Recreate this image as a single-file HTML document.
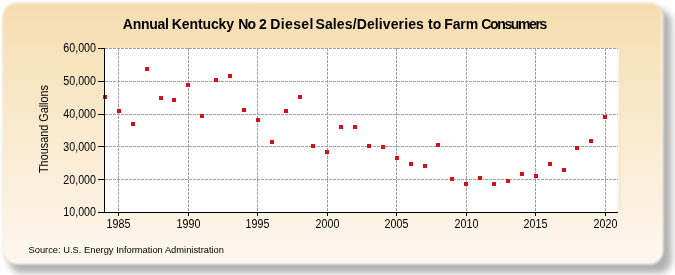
<!DOCTYPE html>
<html><head><meta charset="utf-8"><style>
html,body{margin:0;padding:0;width:675px;height:275px;overflow:hidden;background:#fff}
svg{display:block}
text{font-family:"Liberation Sans",sans-serif;fill:#000}
</style></head><body>
<svg width="675" height="275" viewBox="0 0 675 275">
<defs>
<linearGradient id="bg" x1="0" y1="0" x2="0" y2="1">
<stop offset="0" stop-color="#F5DDB0"/>
<stop offset="1" stop-color="#FEF7EE"/>
</linearGradient>
<filter id="sh" x="-10%" y="-10%" width="120%" height="130%"><feGaussianBlur stdDeviation="3.5"/></filter>
<filter id="noop"><feOffset dx="0" dy="0"/></filter>
<filter id="soft" x="-2%" y="-2%" width="104%" height="104%"><feGaussianBlur stdDeviation="1"/></filter>
</defs>
<rect x="9" y="10" width="662.5" height="263" rx="13" fill="#B0B0B0" filter="url(#sh)"/>
<g filter="url(#soft)">
<rect x="3" y="3.3" width="660.5" height="261.2" rx="14" fill="#FEFAF3" stroke="#B8B49C" stroke-opacity="0.45" stroke-width="1.2"/>
<rect x="3" y="3.3" width="658.5" height="258.7" rx="13" fill="url(#bg)"/>
</g>
<linearGradient id="pr" x1="0" y1="0" x2="1" y2="0"><stop offset="0" stop-color="#fff" stop-opacity="1"/><stop offset="0.55" stop-color="#FBF4E4" stop-opacity="0.9"/><stop offset="1" stop-color="#E6DCCB" stop-opacity="0.6"/></linearGradient>
<rect x="104" y="48" width="512" height="164" fill="#fff"/>
<rect x="616" y="48" width="4.5" height="164" fill="url(#pr)"/>
<g stroke="#a2a2a2" stroke-width="1" stroke-dasharray="3,1" shape-rendering="crispEdges">
<line x1="105" y1="48.5" x2="618" y2="48.5"/>
<line x1="105" y1="81.5" x2="618" y2="81.5"/>
<line x1="105" y1="114.5" x2="618" y2="114.5"/>
<line x1="105" y1="146.5" x2="618" y2="146.5"/>
<line x1="105" y1="179.5" x2="618" y2="179.5"/>
<line x1="118.5" y1="48" x2="118.5" y2="212"/>
<line x1="188.5" y1="48" x2="188.5" y2="212"/>
<line x1="257.5" y1="48" x2="257.5" y2="212"/>
<line x1="327.5" y1="48" x2="327.5" y2="212"/>
<line x1="396.5" y1="48" x2="396.5" y2="212"/>
<line x1="466.5" y1="48" x2="466.5" y2="212"/>
<line x1="535.5" y1="48" x2="535.5" y2="212"/>
<line x1="605.5" y1="48" x2="605.5" y2="212"/>
</g>
<g fill="#D0101E" shape-rendering="crispEdges">
<rect x="103" y="95" width="4" height="4"/>
<rect x="117" y="109" width="4" height="4"/>
<rect x="131" y="122" width="4" height="4"/>
<rect x="145" y="67" width="4" height="4"/>
<rect x="159" y="96" width="4" height="4"/>
<rect x="172" y="98" width="4" height="4"/>
<rect x="186" y="83" width="4" height="4"/>
<rect x="200" y="114" width="4" height="4"/>
<rect x="214" y="78" width="4" height="4"/>
<rect x="228" y="74" width="4" height="4"/>
<rect x="242" y="108" width="4" height="4"/>
<rect x="256" y="118" width="4" height="4"/>
<rect x="270" y="140" width="4" height="4"/>
<rect x="284" y="109" width="4" height="4"/>
<rect x="298" y="95" width="4" height="4"/>
<rect x="311" y="144" width="4" height="4"/>
<rect x="325" y="150" width="4" height="4"/>
<rect x="339" y="125" width="4" height="4"/>
<rect x="353" y="125" width="4" height="4"/>
<rect x="367" y="144" width="4" height="4"/>
<rect x="381" y="145" width="4" height="4"/>
<rect x="395" y="156" width="4" height="4"/>
<rect x="409" y="162" width="4" height="4"/>
<rect x="423" y="164" width="4" height="4"/>
<rect x="436" y="143" width="4" height="4"/>
<rect x="450" y="177" width="4" height="4"/>
<rect x="464" y="182" width="4" height="4"/>
<rect x="478" y="176" width="4" height="4"/>
<rect x="492" y="182" width="4" height="4"/>
<rect x="506" y="179" width="4" height="4"/>
<rect x="520" y="172" width="4" height="4"/>
<rect x="534" y="174" width="4" height="4"/>
<rect x="548" y="162" width="4" height="4"/>
<rect x="562" y="168" width="4" height="4"/>
<rect x="575" y="146" width="4" height="4"/>
<rect x="589" y="139" width="4" height="4"/>
<rect x="603" y="115" width="4" height="4"/>
</g>
<g stroke="#000" stroke-width="1" shape-rendering="crispEdges">
<line x1="104.5" y1="48" x2="104.5" y2="213"/>
<line x1="104" y1="212.5" x2="618" y2="212.5"/>
<line x1="98" y1="48.5" x2="104" y2="48.5"/>
<line x1="98" y1="81.5" x2="104" y2="81.5"/>
<line x1="98" y1="114.5" x2="104" y2="114.5"/>
<line x1="98" y1="146.5" x2="104" y2="146.5"/>
<line x1="98" y1="179.5" x2="104" y2="179.5"/>
<line x1="98" y1="212.5" x2="104" y2="212.5"/>
<line x1="118.5" y1="212" x2="118.5" y2="216"/>
<line x1="188.5" y1="212" x2="188.5" y2="216"/>
<line x1="257.5" y1="212" x2="257.5" y2="216"/>
<line x1="327.5" y1="212" x2="327.5" y2="216"/>
<line x1="396.5" y1="212" x2="396.5" y2="216"/>
<line x1="466.5" y1="212" x2="466.5" y2="216"/>
<line x1="535.5" y1="212" x2="535.5" y2="216"/>
<line x1="605.5" y1="212" x2="605.5" y2="216"/>
</g>
<g filter="url(#noop)">
<g font-size="14" font-weight="bold"><text x="122.86" y="29" textLength="46.11" lengthAdjust="spacing">Annual</text><text x="171.87" y="29" textLength="62.22" lengthAdjust="spacing">Kentucky</text><text x="238.21" y="29" textLength="17.73" lengthAdjust="spacing">No</text><text x="259.11" y="29" textLength="7.75" lengthAdjust="spacing">2</text><text x="270.32" y="29" textLength="43.02" lengthAdjust="spacing">Diesel</text><text x="315.49" y="29" textLength="108.4" lengthAdjust="spacing">Sales/Deliveries</text><text x="428.03" y="29" textLength="13.24" lengthAdjust="spacing">to</text><text x="444.17" y="29" textLength="34.0" lengthAdjust="spacing">Farm</text><text x="481.31" y="29" textLength="65.99" lengthAdjust="spacing">Consumers</text></g>
<g font-size="12">
<text x="96" y="52" text-anchor="end" textLength="32.66" lengthAdjust="spacingAndGlyphs">60,000</text>
<text x="96" y="85" text-anchor="end" textLength="32.66" lengthAdjust="spacingAndGlyphs">50,000</text>
<text x="96" y="118" text-anchor="end" textLength="32.66" lengthAdjust="spacingAndGlyphs">40,000</text>
<text x="96" y="151" text-anchor="end" textLength="32.66" lengthAdjust="spacingAndGlyphs">30,000</text>
<text x="96" y="184" text-anchor="end" textLength="32.66" lengthAdjust="spacingAndGlyphs">20,000</text>
<text x="96" y="216" text-anchor="end" textLength="32.66" lengthAdjust="spacingAndGlyphs">10,000</text>
<text x="118.5" y="228" text-anchor="middle" textLength="23.76" lengthAdjust="spacingAndGlyphs">1985</text>
<text x="188.5" y="228" text-anchor="middle" textLength="23.76" lengthAdjust="spacingAndGlyphs">1990</text>
<text x="257.5" y="228" text-anchor="middle" textLength="23.76" lengthAdjust="spacingAndGlyphs">1995</text>
<text x="327.5" y="228" text-anchor="middle" textLength="23.76" lengthAdjust="spacingAndGlyphs">2000</text>
<text x="396.5" y="228" text-anchor="middle" textLength="23.76" lengthAdjust="spacingAndGlyphs">2005</text>
<text x="466.5" y="228" text-anchor="middle" textLength="23.76" lengthAdjust="spacingAndGlyphs">2010</text>
<text x="535.5" y="228" text-anchor="middle" textLength="23.76" lengthAdjust="spacingAndGlyphs">2015</text>
<text x="605.5" y="228" text-anchor="middle" textLength="23.76" lengthAdjust="spacingAndGlyphs">2020</text>
</g>
<text transform="translate(48,173) rotate(-90)" font-size="12" textLength="88" lengthAdjust="spacingAndGlyphs">Thousand Gallons</text>
<text x="28.5" y="253" font-size="9.5" textLength="195.5" lengthAdjust="spacingAndGlyphs">Source: U.S. Energy Information Administration</text>
</g>
</svg>
</body></html>
